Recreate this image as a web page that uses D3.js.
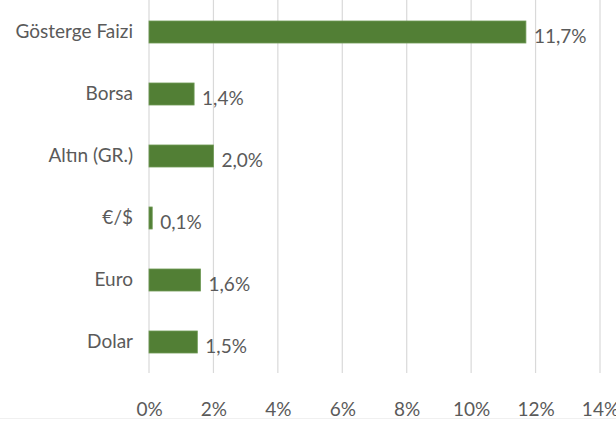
<!DOCTYPE html>
<html><head><meta charset="utf-8">
<script src="https://cdn.jsdelivr.net/npm/d3@7"></script>
<style>html,body{margin:0;padding:0;background:#fff;}svg{display:block;}</style>
</head><body>
<script>
const categories = ["Gösterge Faizi","Borsa","Altın (GR.)","€/$","Euro","Dolar"];
const values = [11.7, 1.4, 2.0, 0.1, 1.6, 1.5];
const valueLabels = ["11,7%","1,4%","2,0%","0,1%","1,6%","1,5%"];
const ticks = [0,2,4,6,8,10,12,14];

const W = 616, H = 423;
const svg = d3.select("body").append("svg").attr("width", W).attr("height", H);
const font = "Lato, 'Open Sans', sans-serif";
const txt = "#5a5a5a";

const x = d3.scaleLinear().domain([0,14]).range([149, 600]);
const y = d3.scaleBand().domain(categories).range([1, 373]).paddingInner(0.645).paddingOuter(0.3225);

// gridlines
svg.append("g").selectAll("line").data(ticks).join("line")
  .attr("x1", d => x(d)).attr("x2", d => x(d)).attr("y1", 0).attr("y2", 373)
  .attr("stroke", "#d9d9d9").attr("stroke-width", 1.2);

// x axis labels
const xa = d3.axisBottom(x).tickValues(ticks).tickSize(0).tickPadding(0).tickFormat(d => d + "%");
const gx = svg.append("g").attr("transform", "translate(0,409)").call(xa);
gx.select(".domain").remove();
gx.selectAll("text").attr("dy", "0.35em").attr("y", 0).attr("fill", txt).style("font-family", font).style("font-size", "19px");

// y axis labels
const ya = d3.axisLeft(y).tickSize(0).tickPadding(0);
const gy = svg.append("g").attr("transform", "translate(133,0)").call(ya);
gy.select(".domain").remove();
gy.selectAll("text").attr("fill", txt).style("font-family", font).style("font-size", "19px");

// bars
svg.append("g").selectAll("rect").data(categories).join("rect")
  .attr("x", x(0)).attr("y", d => y(d))
  .attr("width", (d,i) => x(values[i]) - x(0)).attr("height", y.bandwidth())
  .attr("fill", "#527f35").attr("stroke", "#6f9a55").attr("stroke-width", 0.8);

// value labels
svg.append("g").selectAll("text").data(categories).join("text")
  .attr("x", (d,i) => x(values[i]) + 8)
  .attr("y", d => y(d) + y.bandwidth()/2 + 4)
  .attr("dy", "0.35em")
  .attr("fill", txt).style("font-family", font).style("font-size", "19px")
  .text((d,i) => valueLabels[i]);

// faint bottom border
svg.append("line").attr("x1", 0).attr("x2", W).attr("y1", 418.5).attr("y2", 418.5)
  .attr("stroke", "#f0f0f0").attr("stroke-width", 1);
</script>
</body></html>
